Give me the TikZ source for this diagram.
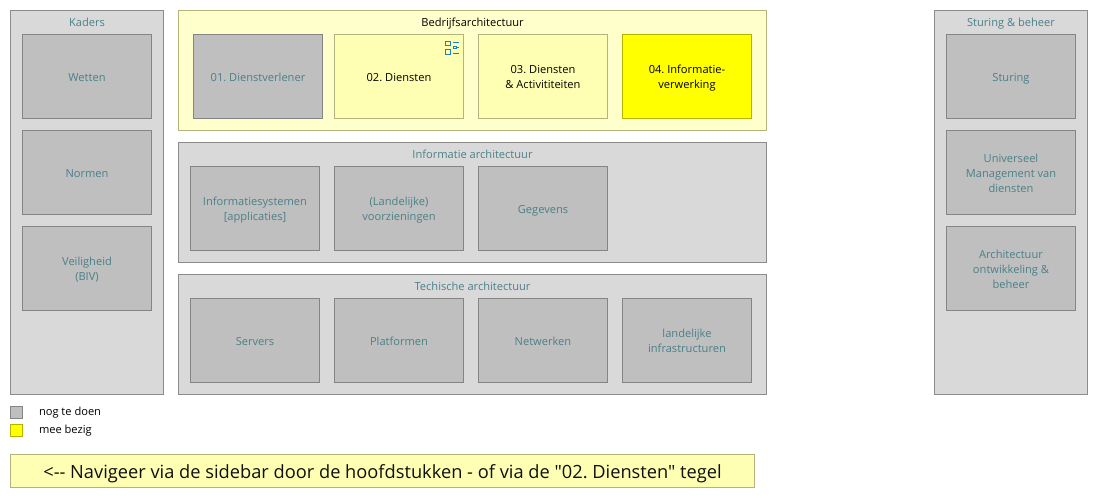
\documentclass[tikz,border=0pt]{standalone}
\usepackage{fontspec}
\setmainfont{Open Sans}
\newfontfamily\plainfont{Open Sans}
\definecolor{tealtxt}{HTML}{4A8088}
\definecolor{greyfill}{HTML}{BFBFBF}
\definecolor{greyline}{HTML}{858585}
\definecolor{outerfill}{HTML}{D9D9D9}
\definecolor{outerline}{HTML}{8C8C8C}
\definecolor{paleouter}{HTML}{FFFFCC}
\definecolor{paleinner}{HTML}{FFFFB3}
\definecolor{paleline}{HTML}{B3B37D}
\definecolor{pureyellow}{RGB}{255,255,0}
\definecolor{yelline}{HTML}{B3B300}
\definecolor{iconblue}{HTML}{1F7FC4}
\definecolor{navtxt}{HTML}{101010}
\newcommand\tl[1]{\raisebox{-4.6pt}[0pt][0pt]{\begin{tabular}{@{}c@{}}#1\end{tabular}}}
\tikzset{
  x=1pt,y=-1pt,
  every node/.style={inner sep=0pt,outer sep=0pt,line width=1pt},
  txt/.style={font=\fontsize{11.1}{15}\selectfont\frenchspacing},
  panel/.style={draw=outerline,fill=outerfill,anchor=north west},
  palepanel/.style={draw=paleline,fill=paleouter,anchor=north west},
  tile/.style={txt,anchor=north west,minimum width=129pt,minimum height=84pt},
  todo/.style={tile,draw=greyline,fill=greyfill,text=tealtxt},
  busy/.style={tile,draw=paleline,fill=paleinner,text=black},
  active/.style={tile,draw=yelline,fill=pureyellow,text=black},
  paneltitle/.style={txt,text=tealtxt,anchor=base},
  swatch/.style={anchor=north west,minimum width=12pt,minimum height=12pt},
  legendtxt/.style={txt,anchor=base west,text=black},
  iconline/.style={draw=iconblue,line width=1pt},
}
\begin{document}
\begin{tikzpicture}
\useasboundingbox (0,0) rectangle (1098,498);
% panels
\node[panel,minimum width=153pt,minimum height=384pt] (kaders) at (10.5,10.5) {};
\node[palepanel,minimum width=588pt,minimum height=120pt] (bedrijf) at (178.5,10.5) {};
\node[panel,minimum width=588pt,minimum height=120pt] (info) at (178.5,142.5) {};
\node[panel,minimum width=588pt,minimum height=120pt] (tech) at (178.5,274.5) {};
\node[panel,minimum width=153pt,minimum height=384pt] (sturingpanel) at (934.5,10.5) {};
% titles
\node[paneltitle] (tkaders) at (87,26) {Kaders};
\node[paneltitle,text=black] (tbedrijf) at (472.5,26) {Bedrijfsarchitectuur};
\node[paneltitle] (tinfo) at (472.5,158) {Informatie architectuur};
\node[paneltitle] (ttech) at (472.5,290) {Techische architectuur};
\node[paneltitle] (tsturing) at (1011,26) {Sturing \& beheer};
% left
\node[todo] (wetten) at (22.5,34.5) {\tl{Wetten}};
\node[todo] (normen) at (22.5,130.5) {\tl{Normen}};
\node[todo] (veilig) at (22.5,226.5) {\tl{Veiligheid\\(BIV)}};
% bedrijf
\node[todo] (d1) at (193.5,34.5) {\tl{01. Dienstverlener}};
\node[busy] (d2) at (334.5,34.5) {\tl{02. Diensten}};
\node[busy] (d3) at (478.5,34.5) {\tl{03. Diensten\\\& Activititeiten}};
\node[active] (d4) at (622.5,34.5) {\tl{04. Informatie-\\verwerking}};
% info
\node[todo] (i1) at (190.5,166.5) {\tl{Informatiesystemen\\{[applicaties]}}};
\node[todo] (i2) at (334.5,166.5) {\tl{(Landelijke)\\voorzieningen}};
\node[todo] (i3) at (478.5,166.5) {\tl{Gegevens}};
% tech
\node[todo] (t1) at (190.5,298.5) {\tl{Servers}};
\node[todo] (t2) at (334.5,298.5) {\tl{Platformen}};
\node[todo] (t3) at (478.5,298.5) {\tl{Netwerken}};
\node[todo] (t4) at (622.5,298.5) {\tl{landelijke\\infrastructuren}};
% right
\node[todo] (s1) at (946.5,34.5) {\tl{Sturing}};
\node[todo] (s2) at (946.5,130.5) {\tl{Universeel\\Management van\\diensten}};
\node[todo] (s3) at (946.5,226.5) {\tl{Architectuur\\ontwikkeling \&\\beheer}};
% legend
\node[swatch,draw=greyline,fill=greyfill] (lg1) at (10.5,406.5) {};
\node[swatch,draw=yelline,fill=pureyellow] (lg2) at (10.5,424.5) {};
\node[legendtxt] (lt1) at (39,415.5) {nog te doen};
\node[legendtxt] (lt2) at (39,433.5) {mee bezig};
% banner
\node[draw=paleline,fill=paleinner,anchor=north west,minimum width=744pt,minimum height=33pt,font=\fontsize{18.25}{20}\selectfont\plainfont\frenchspacing,text=navtxt] (banner) at (10.5,454.5) {\raisebox{-7pt}[0pt][0pt]{<-- Navigeer via de sidebar door de hoofdstukken - of via de "02. Diensten" tegel}};
% icon
\draw[iconline] (445.5,41) rectangle (450.5,45.5);
\draw[iconline] (445.5,49.5) rectangle (450.5,54);
\draw[iconline] (452.5,42.5) -- (459,42.5);
\draw[iconline] (452.5,53) -- (459,53);
\draw[iconline] (453.5,46.5) rectangle (456,48.5);
\draw[iconline] (456,47.5) -- (459,47.5);
\end{tikzpicture}
\end{document}
